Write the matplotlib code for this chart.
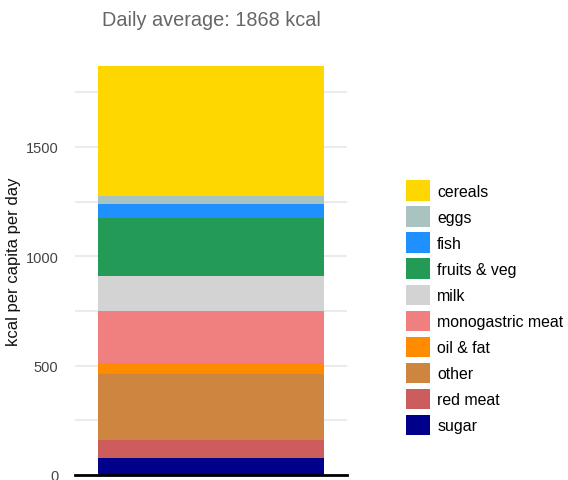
import numpy as np
import matplotlib.pyplot as plt

plt.rcParams['font.family'] = ['Liberation Sans', 'DejaVu Sans']

# stack order bottom -> top
groups = ['sugar', 'red meat', 'other', 'oil & fat', 'monogastric meat',
          'milk', 'fruits & veg', 'fish', 'eggs', 'cereals']
kcal = [79, 81, 303, 51, 238, 159, 266, 62, 38, 591]
colors = ['#00008b', '#cd5c5c', '#cd853f', '#ff8c00', '#f08080',
          '#d3d3d3', '#239a56', '#1e90ff', '#a9c3c0', '#ffd700']

total = sum(kcal)

fig = plt.figure(figsize=(5.68, 4.81), dpi=100)
ax = fig.add_axes([75 / 568, 1 - 476 / 481, 272 / 568, (476 - 47) / 481])

bottom = 0
handles = []
for g, v, c in zip(groups, kcal, colors):
    h = ax.bar(0, v, bottom=bottom, width=0.834, color=c, label=g, zorder=2)
    handles.append(h)
    bottom += v

ax.set_xlim(-0.5, 0.5)
ax.set_ylim(0, total * 1.05)
ax.set_yticks([0, 500, 1000, 1500])
ax.set_yticks([250, 750, 1250, 1750], minor=True)
ax.grid(axis='y', which='both', color='#ebebeb', linewidth=1.5, zorder=0)
ax.set_xticks([])
ax.tick_params(axis='y', which='both', length=0, labelsize=10.5,
               labelcolor='#444444', pad=12)
for s in ['top', 'right', 'left']:
    ax.spines[s].set_visible(False)
ax.spines['bottom'].set_color('black')
ax.spines['bottom'].set_linewidth(2)
ax.spines['bottom'].set_zorder(3)

ax.set_ylabel('kcal per capita per day', fontsize=12, color='#111111', labelpad=3)
fig.text(211 / 568, 1 - 20 / 481, 'Daily average: %d kcal' % total,
         ha='center', va='center', fontsize=14.3, color='#666666')

leg = fig.legend(handles[::-1], groups[::-1], loc='upper left',
                 bbox_to_anchor=(400 / 568, 1 - 175 / 481), frameon=False,
                 fontsize=11.4, handlelength=1.5, handleheight=1.6,
                 handletextpad=0.45, labelspacing=0.36, borderaxespad=0)

fig.savefig('out.png', dpi=100)
